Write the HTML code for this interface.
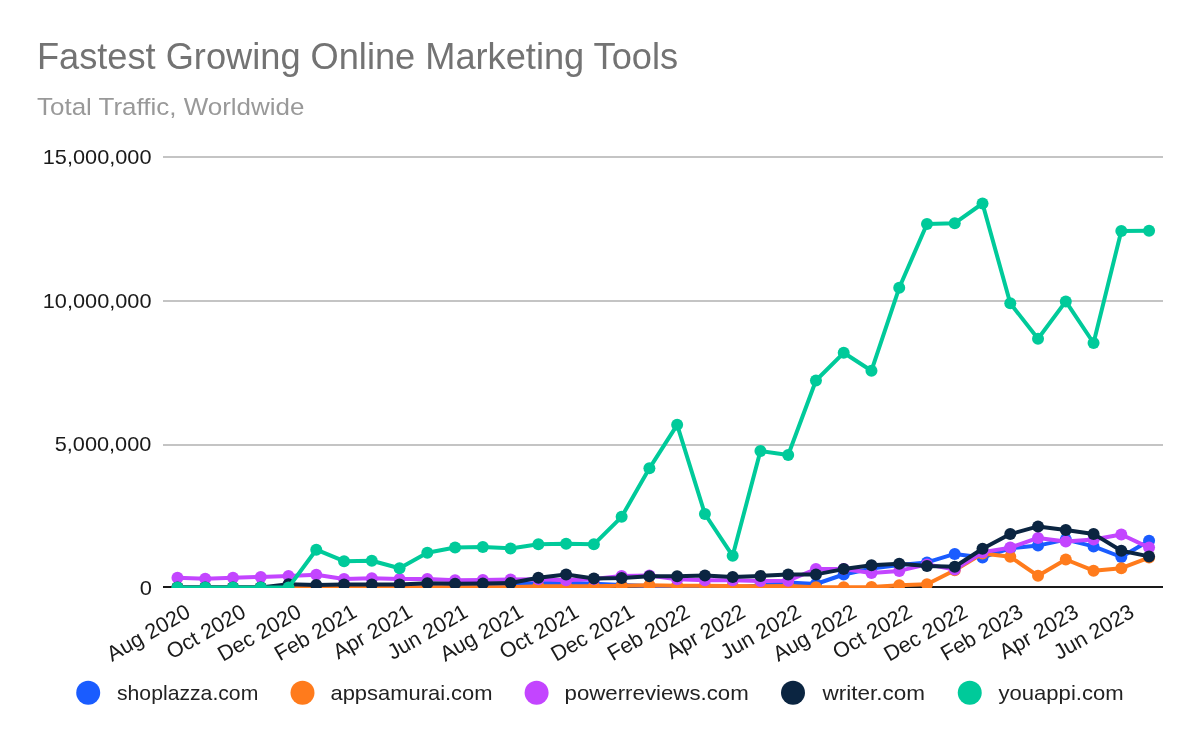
<!DOCTYPE html>
<html><head><meta charset="utf-8"><title>Fastest Growing Online Marketing Tools</title>
<style>html,body{margin:0;padding:0;background:#fff;width:1200px;height:741px;overflow:hidden}svg text{font-family:"Liberation Sans", sans-serif}svg{will-change:transform}</style>
</head><body>
<svg width="1200" height="741" viewBox="0 0 1200 741" style="display:block"><rect x="0" y="0" width="1200" height="741" fill="#fff"/>
<text x="36.98" y="68.6" font-size="36" fill="#737373" textLength="641.15" lengthAdjust="spacingAndGlyphs">Fastest Growing Online Marketing Tools</text>
<text x="37.0" y="114.5" font-size="24.5" fill="#999999" textLength="267.38" lengthAdjust="spacingAndGlyphs">Total Traffic, Worldwide</text>
<rect x="163" y="156" width="1000" height="2" fill="#c4c4c4"/>
<rect x="163" y="300" width="1000" height="2" fill="#c4c4c4"/>
<rect x="163" y="444" width="1000" height="2" fill="#c4c4c4"/>
<text x="42.77" y="164" font-size="21" fill="#1a1a1a" textLength="108.75" lengthAdjust="spacingAndGlyphs">15,000,000</text>
<text x="42.77" y="308" font-size="21" fill="#1a1a1a" textLength="108.75" lengthAdjust="spacingAndGlyphs">10,000,000</text>
<text x="54.72" y="451" font-size="21" fill="#1a1a1a" textLength="96.64" lengthAdjust="spacingAndGlyphs">5,000,000</text>
<text x="139.76" y="594.5" font-size="21" fill="#1a1a1a" textLength="12.15" lengthAdjust="spacingAndGlyphs">0</text>
<rect x="163" y="586" width="1000" height="2" fill="#1a1a1a"/>
<defs><clipPath id="pc"><rect x="0" y="0" width="1200" height="588"/></clipPath></defs>
<g clip-path="url(#pc)">
<polyline points="177.48,587.2 205.24,587.2 233.00,587.2 260.76,587.2 288.52,587.2 316.28,587.2 344.04,587.2 371.80,587.2 399.56,587.2 427.32,587.2 455.08,587.2 482.84,587.2 510.60,583.7 538.36,583.2 566.12,582.7 593.88,583.7 621.64,585.1 649.40,586.1 677.15,586.6 704.91,587.6 732.67,587.6 760.43,585.4 788.19,582.6 815.95,584.0 843.71,574.5 871.47,568.6 899.23,565.1 926.99,562.4 954.75,553.9 982.51,557.4 1010.27,548.3000000000001 1038.03,545.6 1065.79,539.6 1093.55,546.4 1121.31,557.0 1149.07,540.7" fill="none" stroke="#1a5cff" stroke-width="4" stroke-linejoin="round"/>
<circle cx="177.48" cy="587.2" r="6" fill="#1a5cff"/>
<circle cx="205.24" cy="587.2" r="6" fill="#1a5cff"/>
<circle cx="233.00" cy="587.2" r="6" fill="#1a5cff"/>
<circle cx="260.76" cy="587.2" r="6" fill="#1a5cff"/>
<circle cx="288.52" cy="587.2" r="6" fill="#1a5cff"/>
<circle cx="316.28" cy="587.2" r="6" fill="#1a5cff"/>
<circle cx="344.04" cy="587.2" r="6" fill="#1a5cff"/>
<circle cx="371.80" cy="587.2" r="6" fill="#1a5cff"/>
<circle cx="399.56" cy="587.2" r="6" fill="#1a5cff"/>
<circle cx="427.32" cy="587.2" r="6" fill="#1a5cff"/>
<circle cx="455.08" cy="587.2" r="6" fill="#1a5cff"/>
<circle cx="482.84" cy="587.2" r="6" fill="#1a5cff"/>
<circle cx="510.60" cy="583.7" r="6" fill="#1a5cff"/>
<circle cx="538.36" cy="583.2" r="6" fill="#1a5cff"/>
<circle cx="566.12" cy="582.7" r="6" fill="#1a5cff"/>
<circle cx="593.88" cy="583.7" r="6" fill="#1a5cff"/>
<circle cx="621.64" cy="585.1" r="6" fill="#1a5cff"/>
<circle cx="649.40" cy="586.1" r="6" fill="#1a5cff"/>
<circle cx="677.15" cy="586.6" r="6" fill="#1a5cff"/>
<circle cx="704.91" cy="587.6" r="6" fill="#1a5cff"/>
<circle cx="732.67" cy="587.6" r="6" fill="#1a5cff"/>
<circle cx="760.43" cy="585.4" r="6" fill="#1a5cff"/>
<circle cx="788.19" cy="582.6" r="6" fill="#1a5cff"/>
<circle cx="815.95" cy="584.0" r="6" fill="#1a5cff"/>
<circle cx="843.71" cy="574.5" r="6" fill="#1a5cff"/>
<circle cx="871.47" cy="568.6" r="6" fill="#1a5cff"/>
<circle cx="899.23" cy="565.1" r="6" fill="#1a5cff"/>
<circle cx="926.99" cy="562.4" r="6" fill="#1a5cff"/>
<circle cx="954.75" cy="553.9" r="6" fill="#1a5cff"/>
<circle cx="982.51" cy="557.4" r="6" fill="#1a5cff"/>
<circle cx="1010.27" cy="548.3000000000001" r="6" fill="#1a5cff"/>
<circle cx="1038.03" cy="545.6" r="6" fill="#1a5cff"/>
<circle cx="1065.79" cy="539.6" r="6" fill="#1a5cff"/>
<circle cx="1093.55" cy="546.4" r="6" fill="#1a5cff"/>
<circle cx="1121.31" cy="557.0" r="6" fill="#1a5cff"/>
<circle cx="1149.07" cy="540.7" r="6" fill="#1a5cff"/>
<polyline points="177.48,587.4 205.24,587.4 233.00,587.4 260.76,587.4 288.52,587.4 316.28,587.4 344.04,587.4 371.80,587.4 399.56,587.4 427.32,587.2 455.08,587.2 482.84,587.2 510.60,587.2 538.36,586.2 566.12,586.2 593.88,586.2 621.64,585.8000000000001 649.40,585.3000000000001 677.15,585.8000000000001 704.91,585.8000000000001 732.67,586.1 760.43,586.3000000000001 788.19,586.1 815.95,587.2 843.71,587.2 871.47,587.0 899.23,585.3 926.99,584.2 954.75,570.2 982.51,553.6 1010.27,556.8000000000001 1038.03,575.8000000000001 1065.79,559.5 1093.55,570.7 1121.31,568.2 1149.07,557.6" fill="none" stroke="#ff7b1c" stroke-width="4" stroke-linejoin="round"/>
<circle cx="177.48" cy="587.4" r="6" fill="#ff7b1c"/>
<circle cx="205.24" cy="587.4" r="6" fill="#ff7b1c"/>
<circle cx="233.00" cy="587.4" r="6" fill="#ff7b1c"/>
<circle cx="260.76" cy="587.4" r="6" fill="#ff7b1c"/>
<circle cx="288.52" cy="587.4" r="6" fill="#ff7b1c"/>
<circle cx="316.28" cy="587.4" r="6" fill="#ff7b1c"/>
<circle cx="344.04" cy="587.4" r="6" fill="#ff7b1c"/>
<circle cx="371.80" cy="587.4" r="6" fill="#ff7b1c"/>
<circle cx="399.56" cy="587.4" r="6" fill="#ff7b1c"/>
<circle cx="427.32" cy="587.2" r="6" fill="#ff7b1c"/>
<circle cx="455.08" cy="587.2" r="6" fill="#ff7b1c"/>
<circle cx="482.84" cy="587.2" r="6" fill="#ff7b1c"/>
<circle cx="510.60" cy="587.2" r="6" fill="#ff7b1c"/>
<circle cx="538.36" cy="586.2" r="6" fill="#ff7b1c"/>
<circle cx="566.12" cy="586.2" r="6" fill="#ff7b1c"/>
<circle cx="593.88" cy="586.2" r="6" fill="#ff7b1c"/>
<circle cx="621.64" cy="585.8000000000001" r="6" fill="#ff7b1c"/>
<circle cx="649.40" cy="585.3000000000001" r="6" fill="#ff7b1c"/>
<circle cx="677.15" cy="585.8000000000001" r="6" fill="#ff7b1c"/>
<circle cx="704.91" cy="585.8000000000001" r="6" fill="#ff7b1c"/>
<circle cx="732.67" cy="586.1" r="6" fill="#ff7b1c"/>
<circle cx="760.43" cy="586.3000000000001" r="6" fill="#ff7b1c"/>
<circle cx="788.19" cy="586.1" r="6" fill="#ff7b1c"/>
<circle cx="815.95" cy="587.2" r="6" fill="#ff7b1c"/>
<circle cx="843.71" cy="587.2" r="6" fill="#ff7b1c"/>
<circle cx="871.47" cy="587.0" r="6" fill="#ff7b1c"/>
<circle cx="899.23" cy="585.3" r="6" fill="#ff7b1c"/>
<circle cx="926.99" cy="584.2" r="6" fill="#ff7b1c"/>
<circle cx="954.75" cy="570.2" r="6" fill="#ff7b1c"/>
<circle cx="982.51" cy="553.6" r="6" fill="#ff7b1c"/>
<circle cx="1010.27" cy="556.8000000000001" r="6" fill="#ff7b1c"/>
<circle cx="1038.03" cy="575.8000000000001" r="6" fill="#ff7b1c"/>
<circle cx="1065.79" cy="559.5" r="6" fill="#ff7b1c"/>
<circle cx="1093.55" cy="570.7" r="6" fill="#ff7b1c"/>
<circle cx="1121.31" cy="568.2" r="6" fill="#ff7b1c"/>
<circle cx="1149.07" cy="557.6" r="6" fill="#ff7b1c"/>
<polyline points="177.48,577.7 205.24,578.7 233.00,577.7 260.76,577.0 288.52,576.0 316.28,574.7 344.04,579.0 371.80,578.2 399.56,578.9000000000001 427.32,579.0 455.08,580.3000000000001 482.84,579.9000000000001 510.60,579.5 538.36,579.2 566.12,580.2 593.88,579.0 621.64,576.1 649.40,575.6 677.15,579.3000000000001 704.91,580.3000000000001 732.67,580.3000000000001 760.43,580.9 788.19,580.7 815.95,569 843.71,569 871.47,573.1 899.23,570.9 926.99,564.4 954.75,569.5 982.51,552.2 1010.27,547.6 1038.03,537.9 1065.79,541.4 1093.55,539.5 1121.31,534.5 1149.07,547.6" fill="none" stroke="#c345ff" stroke-width="4" stroke-linejoin="round"/>
<circle cx="177.48" cy="577.7" r="6" fill="#c345ff"/>
<circle cx="205.24" cy="578.7" r="6" fill="#c345ff"/>
<circle cx="233.00" cy="577.7" r="6" fill="#c345ff"/>
<circle cx="260.76" cy="577.0" r="6" fill="#c345ff"/>
<circle cx="288.52" cy="576.0" r="6" fill="#c345ff"/>
<circle cx="316.28" cy="574.7" r="6" fill="#c345ff"/>
<circle cx="344.04" cy="579.0" r="6" fill="#c345ff"/>
<circle cx="371.80" cy="578.2" r="6" fill="#c345ff"/>
<circle cx="399.56" cy="578.9000000000001" r="6" fill="#c345ff"/>
<circle cx="427.32" cy="579.0" r="6" fill="#c345ff"/>
<circle cx="455.08" cy="580.3000000000001" r="6" fill="#c345ff"/>
<circle cx="482.84" cy="579.9000000000001" r="6" fill="#c345ff"/>
<circle cx="510.60" cy="579.5" r="6" fill="#c345ff"/>
<circle cx="538.36" cy="579.2" r="6" fill="#c345ff"/>
<circle cx="566.12" cy="580.2" r="6" fill="#c345ff"/>
<circle cx="593.88" cy="579.0" r="6" fill="#c345ff"/>
<circle cx="621.64" cy="576.1" r="6" fill="#c345ff"/>
<circle cx="649.40" cy="575.6" r="6" fill="#c345ff"/>
<circle cx="677.15" cy="579.3000000000001" r="6" fill="#c345ff"/>
<circle cx="704.91" cy="580.3000000000001" r="6" fill="#c345ff"/>
<circle cx="732.67" cy="580.3000000000001" r="6" fill="#c345ff"/>
<circle cx="760.43" cy="580.9" r="6" fill="#c345ff"/>
<circle cx="788.19" cy="580.7" r="6" fill="#c345ff"/>
<circle cx="815.95" cy="569" r="6" fill="#c345ff"/>
<circle cx="843.71" cy="569" r="6" fill="#c345ff"/>
<circle cx="871.47" cy="573.1" r="6" fill="#c345ff"/>
<circle cx="899.23" cy="570.9" r="6" fill="#c345ff"/>
<circle cx="926.99" cy="564.4" r="6" fill="#c345ff"/>
<circle cx="954.75" cy="569.5" r="6" fill="#c345ff"/>
<circle cx="982.51" cy="552.2" r="6" fill="#c345ff"/>
<circle cx="1010.27" cy="547.6" r="6" fill="#c345ff"/>
<circle cx="1038.03" cy="537.9" r="6" fill="#c345ff"/>
<circle cx="1065.79" cy="541.4" r="6" fill="#c345ff"/>
<circle cx="1093.55" cy="539.5" r="6" fill="#c345ff"/>
<circle cx="1121.31" cy="534.5" r="6" fill="#c345ff"/>
<circle cx="1149.07" cy="547.6" r="6" fill="#c345ff"/>
<polyline points="177.48,587.4 205.24,587.4 233.00,587.4 260.76,587.4 288.52,584.2 316.28,584.9000000000001 344.04,584.5 371.80,584.5 399.56,584.5 427.32,583.2 455.08,583.7 482.84,583.4000000000001 510.60,583.0 538.36,577.8000000000001 566.12,574.5 593.88,578.4000000000001 621.64,578.1 649.40,576.3000000000001 677.15,576.3000000000001 704.91,575.6 732.67,577.1 760.43,575.9 788.19,574.4 815.95,574.4 843.71,569.1 871.47,565.3000000000001 899.23,563.8000000000001 926.99,566.0 954.75,566.7 982.51,548.8000000000001 1010.27,534.1 1038.03,526.4 1065.79,530.1 1093.55,533.9 1121.31,550.7 1149.07,556.4" fill="none" stroke="#0b2541" stroke-width="4" stroke-linejoin="round"/>
<circle cx="177.48" cy="587.4" r="6" fill="#0b2541"/>
<circle cx="205.24" cy="587.4" r="6" fill="#0b2541"/>
<circle cx="233.00" cy="587.4" r="6" fill="#0b2541"/>
<circle cx="260.76" cy="587.4" r="6" fill="#0b2541"/>
<circle cx="288.52" cy="584.2" r="6" fill="#0b2541"/>
<circle cx="316.28" cy="584.9000000000001" r="6" fill="#0b2541"/>
<circle cx="344.04" cy="584.5" r="6" fill="#0b2541"/>
<circle cx="371.80" cy="584.5" r="6" fill="#0b2541"/>
<circle cx="399.56" cy="584.5" r="6" fill="#0b2541"/>
<circle cx="427.32" cy="583.2" r="6" fill="#0b2541"/>
<circle cx="455.08" cy="583.7" r="6" fill="#0b2541"/>
<circle cx="482.84" cy="583.4000000000001" r="6" fill="#0b2541"/>
<circle cx="510.60" cy="583.0" r="6" fill="#0b2541"/>
<circle cx="538.36" cy="577.8000000000001" r="6" fill="#0b2541"/>
<circle cx="566.12" cy="574.5" r="6" fill="#0b2541"/>
<circle cx="593.88" cy="578.4000000000001" r="6" fill="#0b2541"/>
<circle cx="621.64" cy="578.1" r="6" fill="#0b2541"/>
<circle cx="649.40" cy="576.3000000000001" r="6" fill="#0b2541"/>
<circle cx="677.15" cy="576.3000000000001" r="6" fill="#0b2541"/>
<circle cx="704.91" cy="575.6" r="6" fill="#0b2541"/>
<circle cx="732.67" cy="577.1" r="6" fill="#0b2541"/>
<circle cx="760.43" cy="575.9" r="6" fill="#0b2541"/>
<circle cx="788.19" cy="574.4" r="6" fill="#0b2541"/>
<circle cx="815.95" cy="574.4" r="6" fill="#0b2541"/>
<circle cx="843.71" cy="569.1" r="6" fill="#0b2541"/>
<circle cx="871.47" cy="565.3000000000001" r="6" fill="#0b2541"/>
<circle cx="899.23" cy="563.8000000000001" r="6" fill="#0b2541"/>
<circle cx="926.99" cy="566.0" r="6" fill="#0b2541"/>
<circle cx="954.75" cy="566.7" r="6" fill="#0b2541"/>
<circle cx="982.51" cy="548.8000000000001" r="6" fill="#0b2541"/>
<circle cx="1010.27" cy="534.1" r="6" fill="#0b2541"/>
<circle cx="1038.03" cy="526.4" r="6" fill="#0b2541"/>
<circle cx="1065.79" cy="530.1" r="6" fill="#0b2541"/>
<circle cx="1093.55" cy="533.9" r="6" fill="#0b2541"/>
<circle cx="1121.31" cy="550.7" r="6" fill="#0b2541"/>
<circle cx="1149.07" cy="556.4" r="6" fill="#0b2541"/>
<polyline points="177.48,587.4 205.24,587.4 233.00,587.4 260.76,587.4 288.52,587.4 316.28,549.7 344.04,561.2 371.80,560.8 399.56,568.3 427.32,552.8 455.08,547.5 482.84,547 510.60,548.4 538.36,544.3 566.12,543.8 593.88,544.3 621.64,516.8 649.40,468.3 677.15,424.8 704.91,514 732.67,555.8 760.43,451 788.19,455 815.95,380.5 843.71,352.8 871.47,370.7 899.23,287.8 926.99,224 954.75,223.2 982.51,203.5 1010.27,303.3 1038.03,338.8 1065.79,301.4 1093.55,343 1121.31,230.9 1149.07,230.8" fill="none" stroke="#00ca9a" stroke-width="4" stroke-linejoin="round"/>
<circle cx="177.48" cy="587.4" r="6" fill="#00ca9a"/>
<circle cx="205.24" cy="587.4" r="6" fill="#00ca9a"/>
<circle cx="233.00" cy="587.4" r="6" fill="#00ca9a"/>
<circle cx="260.76" cy="587.4" r="6" fill="#00ca9a"/>
<circle cx="288.52" cy="587.4" r="6" fill="#00ca9a"/>
<circle cx="316.28" cy="549.7" r="6" fill="#00ca9a"/>
<circle cx="344.04" cy="561.2" r="6" fill="#00ca9a"/>
<circle cx="371.80" cy="560.8" r="6" fill="#00ca9a"/>
<circle cx="399.56" cy="568.3" r="6" fill="#00ca9a"/>
<circle cx="427.32" cy="552.8" r="6" fill="#00ca9a"/>
<circle cx="455.08" cy="547.5" r="6" fill="#00ca9a"/>
<circle cx="482.84" cy="547" r="6" fill="#00ca9a"/>
<circle cx="510.60" cy="548.4" r="6" fill="#00ca9a"/>
<circle cx="538.36" cy="544.3" r="6" fill="#00ca9a"/>
<circle cx="566.12" cy="543.8" r="6" fill="#00ca9a"/>
<circle cx="593.88" cy="544.3" r="6" fill="#00ca9a"/>
<circle cx="621.64" cy="516.8" r="6" fill="#00ca9a"/>
<circle cx="649.40" cy="468.3" r="6" fill="#00ca9a"/>
<circle cx="677.15" cy="424.8" r="6" fill="#00ca9a"/>
<circle cx="704.91" cy="514" r="6" fill="#00ca9a"/>
<circle cx="732.67" cy="555.8" r="6" fill="#00ca9a"/>
<circle cx="760.43" cy="451" r="6" fill="#00ca9a"/>
<circle cx="788.19" cy="455" r="6" fill="#00ca9a"/>
<circle cx="815.95" cy="380.5" r="6" fill="#00ca9a"/>
<circle cx="843.71" cy="352.8" r="6" fill="#00ca9a"/>
<circle cx="871.47" cy="370.7" r="6" fill="#00ca9a"/>
<circle cx="899.23" cy="287.8" r="6" fill="#00ca9a"/>
<circle cx="926.99" cy="224" r="6" fill="#00ca9a"/>
<circle cx="954.75" cy="223.2" r="6" fill="#00ca9a"/>
<circle cx="982.51" cy="203.5" r="6" fill="#00ca9a"/>
<circle cx="1010.27" cy="303.3" r="6" fill="#00ca9a"/>
<circle cx="1038.03" cy="338.8" r="6" fill="#00ca9a"/>
<circle cx="1065.79" cy="301.4" r="6" fill="#00ca9a"/>
<circle cx="1093.55" cy="343" r="6" fill="#00ca9a"/>
<circle cx="1121.31" cy="230.9" r="6" fill="#00ca9a"/>
<circle cx="1149.07" cy="230.8" r="6" fill="#00ca9a"/>
</g>
<text x="191.78" y="616" font-size="21.5" fill="#1a1a1a" text-anchor="end" transform="rotate(-30 191.78 616)">Aug 2020</text>
<text x="247.30" y="616" font-size="21.5" fill="#1a1a1a" text-anchor="end" transform="rotate(-30 247.30 616)">Oct 2020</text>
<text x="302.82" y="616" font-size="21.5" fill="#1a1a1a" text-anchor="end" transform="rotate(-30 302.82 616)">Dec 2020</text>
<text x="358.34" y="616" font-size="21.5" fill="#1a1a1a" text-anchor="end" transform="rotate(-30 358.34 616)">Feb 2021</text>
<text x="413.86" y="616" font-size="21.5" fill="#1a1a1a" text-anchor="end" transform="rotate(-30 413.86 616)">Apr 2021</text>
<text x="469.38" y="616" font-size="21.5" fill="#1a1a1a" text-anchor="end" transform="rotate(-30 469.38 616)">Jun 2021</text>
<text x="524.90" y="616" font-size="21.5" fill="#1a1a1a" text-anchor="end" transform="rotate(-30 524.90 616)">Aug 2021</text>
<text x="580.42" y="616" font-size="21.5" fill="#1a1a1a" text-anchor="end" transform="rotate(-30 580.42 616)">Oct 2021</text>
<text x="635.94" y="616" font-size="21.5" fill="#1a1a1a" text-anchor="end" transform="rotate(-30 635.94 616)">Dec 2021</text>
<text x="691.45" y="616" font-size="21.5" fill="#1a1a1a" text-anchor="end" transform="rotate(-30 691.45 616)">Feb 2022</text>
<text x="746.97" y="616" font-size="21.5" fill="#1a1a1a" text-anchor="end" transform="rotate(-30 746.97 616)">Apr 2022</text>
<text x="802.49" y="616" font-size="21.5" fill="#1a1a1a" text-anchor="end" transform="rotate(-30 802.49 616)">Jun 2022</text>
<text x="858.01" y="616" font-size="21.5" fill="#1a1a1a" text-anchor="end" transform="rotate(-30 858.01 616)">Aug 2022</text>
<text x="913.53" y="616" font-size="21.5" fill="#1a1a1a" text-anchor="end" transform="rotate(-30 913.53 616)">Oct 2022</text>
<text x="969.05" y="616" font-size="21.5" fill="#1a1a1a" text-anchor="end" transform="rotate(-30 969.05 616)">Dec 2022</text>
<text x="1024.57" y="616" font-size="21.5" fill="#1a1a1a" text-anchor="end" transform="rotate(-30 1024.57 616)">Feb 2023</text>
<text x="1080.09" y="616" font-size="21.5" fill="#1a1a1a" text-anchor="end" transform="rotate(-30 1080.09 616)">Apr 2023</text>
<text x="1135.61" y="616" font-size="21.5" fill="#1a1a1a" text-anchor="end" transform="rotate(-30 1135.61 616)">Jun 2023</text>
<circle cx="88.2" cy="692.8" r="12" fill="#1a5cff"/>
<text x="117.0" y="699.7" font-size="21" fill="#222222" textLength="141.29" lengthAdjust="spacingAndGlyphs">shoplazza.com</text>
<circle cx="302.5" cy="692.8" r="12" fill="#ff7b1c"/>
<text x="330.46" y="699.7" font-size="21" fill="#222222" textLength="162.08" lengthAdjust="spacingAndGlyphs">appsamurai.com</text>
<circle cx="536.6" cy="692.8" r="12" fill="#c345ff"/>
<text x="564.54" y="699.7" font-size="21" fill="#222222" textLength="184.2" lengthAdjust="spacingAndGlyphs">powerreviews.com</text>
<circle cx="793" cy="692.8" r="12" fill="#0b2541"/>
<text x="822.5" y="699.7" font-size="21" fill="#222222" textLength="102.54" lengthAdjust="spacingAndGlyphs">writer.com</text>
<circle cx="969.75" cy="692.8" r="12" fill="#00ca9a"/>
<text x="998.5" y="699.7" font-size="21" fill="#222222" textLength="125.13" lengthAdjust="spacingAndGlyphs">youappi.com</text></svg>
</body></html>
